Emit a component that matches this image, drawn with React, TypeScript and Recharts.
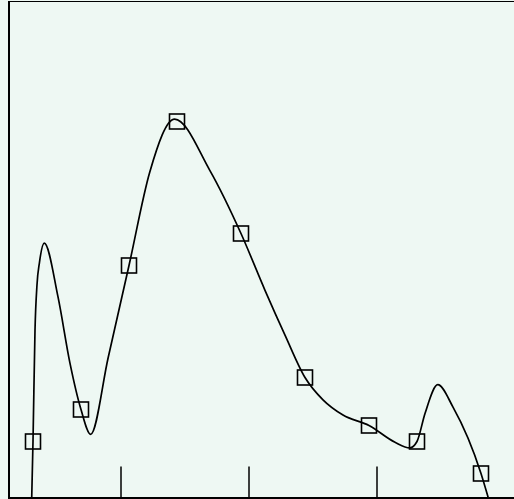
import React from "react";
import { ComposedChart, Line, Scatter, XAxis, YAxis, ReferenceLine } from "recharts";

// Square markers
const markerX = [3, 9, 15, 21, 29, 37, 45, 51, 59];
const markerY = [7, 11, 29, 47, 33, 15, 9, 7, 3];

// Curve samples
const curveX = [2.84, 3, 3.25, 3.5, 3.81, 4.41, 6.12, 7.62, 9, 10.21, 12.4, 15, 17.6, 20.7, 25.1, 29, 32, 34.5, 37, 39.25, 41.75, 45, 48.25, 50.1, 51, 52, 53.6, 55.5, 59, 59.9];
const curveY = [0, 7, 20.9, 26.6, 29.4, 31.8, 25.1, 16.8, 11, 7.9, 17.5, 29, 40.7, 47.3, 40.9, 33, 25.9, 20.3, 15, 12.2, 10.3, 9, 6.9, 6.2, 7, 10.5, 14.1, 11.3, 3, 0];

const tickValues = [14, 30, 46];
const tickLength = 3.875;

const xDomain: [number, number] = [0, 64];
const yDomain: [number, number] = [0, 62];

const markerData = markerX.map((x, i) => ({ x, y: markerY[i] }));
const curveData = curveX.map((x, i) => ({ x, y: curveY[i] }));

const Square = (props: any) => {
  const { cx, cy } = props;
  if (cx == null || cy == null) return null;
  return <rect x={cx - 7.5} y={cy - 7.5} width={15} height={15} fill="none" stroke="#000" strokeWidth={1.6} />;
};

export default function App() {
  return (
    <div style={{ position: "absolute", left: 0, top: 0, width: 514, height: 499 }}>
      <style>{`html,body{margin:0;background:#eef8f3;overflow:hidden}`}</style>
      <div
        style={{
          position: "absolute",
          left: 8,
          top: 1,
          width: 600,
          height: 498,
          boxSizing: "border-box",
          borderLeft: "2px solid #000",
          borderTop: "1.5px solid #000",
          borderBottom: "2px solid #000",
          background: "#eef8f3",
        }}
      />
      <div style={{ position: "absolute", left: 0, top: 0 }}>
        <ComposedChart
          width={521}
          height={500}
          margin={{ top: 1.5, left: 9, right: 0, bottom: 2.5 }}
        >
          <XAxis type="number" dataKey="x" domain={xDomain} allowDataOverflow hide height={0} />
          <YAxis type="number" dataKey="y" domain={yDomain} allowDataOverflow hide width={0} />
          {tickValues.map((t) => (
            <ReferenceLine
              key={t}
              segment={[{ x: t, y: 0 }, { x: t, y: tickLength }]}
              stroke="#000"
              strokeWidth={1.5}
            />
          ))}
          <Line
            data={curveData}
            dataKey="y"
            type="monotone"
            stroke="#000"
            strokeWidth={1.7}
            dot={false}
            activeDot={false}
            isAnimationActive={false}
          />
          <Scatter data={markerData} dataKey="y" shape={Square} isAnimationActive={false} />
        </ComposedChart>
      </div>
    </div>
  );
}
